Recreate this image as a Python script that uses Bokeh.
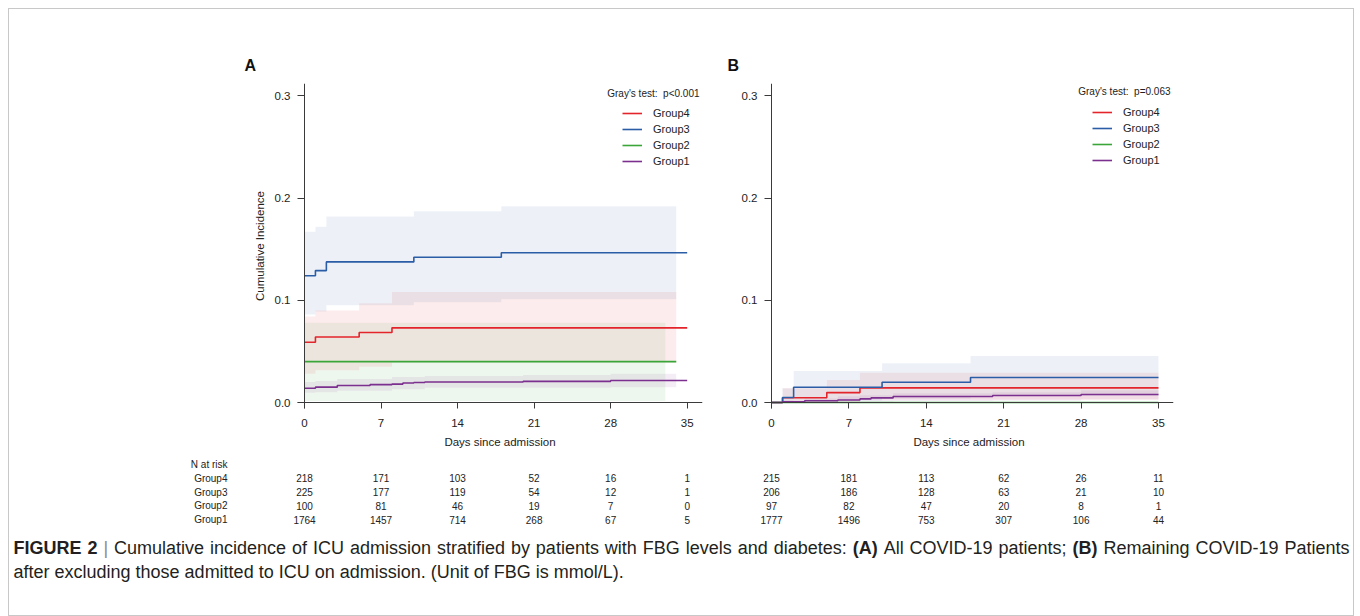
from bokeh.plotting import figure
from bokeh.models import (Range1d, FactorRange, FixedTicker, NumeralTickFormatter,
                          Legend, LegendItem, Label, ColumnDataSource, Span)
from bokeh.layouts import column, row
from bokeh.embed import file_html
from bokeh.resources import INLINE
from bokeh.core.properties import value

FONT = "Liberation Sans"
CAP_FONT = "Liberation Sans"

# ---------------- data ----------------
day_ticks = [0, 7, 14, 21, 28, 35]
y_ticks = [0.0, 0.1, 0.2, 0.3]
group_names = ["Group4", "Group3", "Group2", "Group1"]
group_colors = ["#e3242b", "#2b5ca6", "#3aa63a", "#7b2f8e"]

# Panel A: cumulative incidence step curves (time, value)
a_g4_t = [0, 1, 5, 8, 35]
a_g4_y = [0.059, 0.064, 0.0685, 0.073, 0.073]
a_g3_t = [0, 1, 2, 10, 18, 35]
a_g3_y = [0.124, 0.129, 0.1375, 0.142, 0.1465, 0.1465]
a_g2_t = [0, 34]
a_g2_y = [0.040, 0.040]
a_g1_t = [0, 1, 3, 6, 8, 9, 10, 11, 20, 28, 35]
a_g1_y = [0.014, 0.015, 0.0167, 0.0175, 0.018, 0.019, 0.0195, 0.020, 0.0207, 0.0215, 0.0215]

# Panel A: confidence bands (time, lower, upper)
a_g4_ci_t = [0, 1, 5, 8, 34]
a_g4_lo = [0.028, 0.0315, 0.035, 0.039, 0.039]
a_g4_hi = [0.084, 0.090, 0.097, 0.108, 0.108]
a_g3_ci_t = [0, 1, 2, 10, 18, 34]
a_g3_lo = [0.086, 0.089, 0.095, 0.098, 0.101, 0.101]
a_g3_hi = [0.167, 0.172, 0.182, 0.187, 0.192, 0.192]
a_g2_ci_t = [0, 33]
a_g2_lo = [0.0015, 0.0015]
a_g2_hi = [0.078, 0.078]
a_g1_ci_t = [0, 1, 3, 8, 11, 20, 28, 34]
a_g1_lo = [0.0095, 0.010, 0.0115, 0.013, 0.0145, 0.0145, 0.015, 0.015]
a_g1_hi = [0.020, 0.021, 0.023, 0.025, 0.026, 0.027, 0.028, 0.028]

# Panel B: step curves
b_g4_t = [0, 1, 5, 8, 35]
b_g4_y = [0.0, 0.0047, 0.0097, 0.0143, 0.0143]
b_g3_t = [0, 1, 2, 10, 18, 35]
b_g3_y = [0.0, 0.0049, 0.0149, 0.0198, 0.0244, 0.0244]
b_g2_t = [0, 35]
b_g2_y = [0.0, 0.0]
b_g1_t = [0, 1, 3, 6, 8, 9, 11, 20, 28, 35]
b_g1_y = [0.0, 0.0006, 0.0017, 0.0025, 0.0035, 0.0045, 0.0058, 0.0068, 0.0078, 0.0078]

# Panel B: confidence bands
b_g4_ci_t = [0, 1, 5, 8, 35]
b_g4_lo = [0.0, 0.0, 0.001, 0.003, 0.003]
b_g4_hi = [0.0, 0.014, 0.022, 0.029, 0.029]
b_g3_ci_t = [0, 1, 2, 10, 18, 35]
b_g3_lo = [0.0, 0.0, 0.002, 0.004, 0.0065, 0.0065]
b_g3_hi = [0.0, 0.014, 0.0308, 0.0383, 0.0455, 0.0455]
b_g1_ci_t = [0, 1, 3, 6, 8, 11, 20, 28, 35]
b_g1_lo = [0.0, 0.0, 0.0, 0.0005, 0.001, 0.0015, 0.002, 0.003, 0.003]
b_g1_hi = [0.0, 0.002, 0.004, 0.006, 0.007, 0.009, 0.010, 0.012, 0.012]

# Numbers at risk
risk_a = {"Group4": [218, 171, 103, 52, 16, 1],
          "Group3": [225, 177, 119, 54, 12, 1],
          "Group2": [100, 81, 46, 19, 7, 0],
          "Group1": [1764, 1457, 714, 268, 67, 5]}
risk_b = {"Group4": [215, 181, 113, 62, 26, 11],
          "Group3": [206, 186, 128, 63, 21, 10],
          "Group2": [97, 82, 47, 20, 8, 1],
          "Group1": [1777, 1496, 753, 307, 106, 44]}

NB = "\u00a0"
test_a = "Gray's test:" + NB + NB + "p<0.001"
test_b = "Gray's test:" + NB + NB + "p=0.063"

caption_line1 = [("FIGURE", True), ("2", True), ("|", False), ("Cumulative", False), ("incidence", False),
                 ("of", False), ("ICU", False), ("admission", False), ("stratified", False), ("by", False),
                 ("patients", False), ("with", False), ("FBG", False), ("levels", False), ("and", False),
                 ("diabetes:", False), ("(A)", True), ("All", False), ("COVID-19", False), ("patients;", False),
                 ("(B)", True), ("Remaining", False), ("COVID-19", False), ("Patients", False)]
caption_line2 = "after excluding those admitted to ICU on admission. (Unit of FBG is mmol/L)."

# ---------------- layout (page pixels; canvas starts at page x=9, y=9) ----------------
PANEL_H = 448
RISK_H = 74
CAP_H = 84
ZERO_Y = 402            # page y of value 0
PX_Y = 1022.4           # pixels per unit of cumulative incidence
FRAME_TOP = 83
FRAME_BOT = 408         # axes cross: frame extends a little below 0 and left of day 0
X_EXT = 7
AXIS_COL = "#3a3a3a"


def style_axes(p):
    for ax in p.axis:
        ax.axis_line_color = None
        ax.major_tick_line_color = AXIS_COL
        ax.minor_tick_line_color = None
        ax.major_tick_out = 0
        ax.major_label_text_font = FONT
        ax.major_label_text_font_size = "11.5px"
        ax.major_label_text_color = "#222222"
        ax.axis_label_text_font = FONT
        ax.axis_label_text_font_size = "11.5px"
        ax.axis_label_text_font_style = "normal"
        ax.axis_label_text_color = "#222222"


def make_panel(letter, lines, bands, canvas_x, width, day0_x, px_day, frame_right, ylabel,
               test_text, test_xy, legend_tl, letter_x):
    frame_left = day0_x - X_EXT
    x_start = -X_EXT / px_day
    x_end = x_start + (frame_right - frame_left) / px_day
    y_start = -(FRAME_BOT - ZERO_Y) / PX_Y
    y_end = (ZERO_Y - FRAME_TOP) / PX_Y
    p = figure(width=width, height=PANEL_H, x_range=Range1d(x_start, x_end),
               y_range=Range1d(y_start, y_end),
               output_backend="svg", toolbar_location=None,
               min_border_left=frame_left - canvas_x, min_border_right=canvas_x + width - frame_right,
               min_border_top=FRAME_TOP - 9, min_border_bottom=9 + PANEL_H - FRAME_BOT)
    p.outline_line_color = None
    p.xgrid.visible = False
    p.ygrid.visible = False
    for band, c in zip(bands, group_colors):
        if band is None:
            continue
        t, lo, hi = band
        p.varea_step(x=t, y1=lo, y2=hi, step_mode="after", fill_color=c, fill_alpha=0.085)
    rends = []
    for (t, y), c in zip(lines, group_colors):
        r = p.step(x=t, y=y, mode="after", line_color=c, line_width=1.6)
        rends.append(r)
    # axis lines crossing at the origin
    p.add_layout(Span(location=0, dimension="width", line_color=AXIS_COL, line_width=1))
    p.add_layout(Span(location=0, dimension="height", line_color=AXIS_COL, line_width=1))

    p.xaxis.ticker = FixedTicker(ticks=day_ticks, minor_ticks=[])
    p.yaxis.ticker = FixedTicker(ticks=y_ticks, minor_ticks=[])
    p.yaxis.formatter = NumeralTickFormatter(format="0.0")
    style_axes(p)
    p.xaxis.major_tick_in = FRAME_BOT - ZERO_Y
    p.xaxis.major_label_standoff = 10
    p.xaxis.axis_label = "Days since admission"
    p.xaxis.axis_label_standoff = 6
    p.yaxis.major_tick_in = X_EXT
    p.yaxis.major_label_standoff = 7
    if ylabel:
        p.yaxis.axis_label = ylabel
        p.yaxis.axis_label_standoff = 6

    p.title.text = letter
    p.title.text_font = FONT
    p.title.text_font_size = "16px"
    p.title.text_font_style = "bold"
    p.title.text_color = "#111111"
    p.title.align = "left"
    p.title.offset = letter_x - frame_left
    p.title.standoff = 19

    legend = Legend(items=[LegendItem(label=n, renderers=[r]) for n, r in zip(group_names, rends)],
                    location=(legend_tl[0] - frame_left, FRAME_BOT - (legend_tl[1] + 64)),
                    glyph_width=20, glyph_height=16, label_height=16,
                    label_standoff=11, spacing=0, padding=0, margin=0,
                    border_line_color=None, background_fill_alpha=0,
                    label_text_font=FONT, label_text_font_size="11px", label_text_color="#222222")
    p.add_layout(legend)
    p.add_layout(Label(x=(test_xy[0] - day0_x) / px_day, y=(ZERO_Y - test_xy[1]) / PX_Y,
                       text=test_text, text_align="right",
                       text_baseline="middle", text_font=FONT, text_font_size="10px",
                       text_color="#222222"))
    return p


PX_A = 10.934
PX_B = 11.057
figA = make_panel("A",
                  [(a_g4_t, a_g4_y), (a_g3_t, a_g3_y), (a_g2_t, a_g2_y), (a_g1_t, a_g1_y)],
                  [(a_g4_ci_t, a_g4_lo, a_g4_hi), (a_g3_ci_t, a_g3_lo, a_g3_hi),
                   (a_g2_ci_t, a_g2_lo, a_g2_hi), (a_g1_ci_t, a_g1_lo, a_g1_hi)],
                  9, 707, 304, PX_A, 702, "Cumulative Incidence",
                  test_a, (699, 93.3), (622, 105.3), 244)
figB = make_panel("B",
                  [(b_g4_t, b_g4_y), (b_g3_t, b_g3_y), (b_g2_t, b_g2_y), (b_g1_t, b_g1_y)],
                  [(b_g4_ci_t, b_g4_lo, b_g4_hi), (b_g3_ci_t, b_g3_lo, b_g3_hi),
                   None, (b_g1_ci_t, b_g1_lo, b_g1_hi)],
                  716, 637, 771, PX_B, 1173, None,
                  test_b, (1170, 91), (1092, 104.3), 727)


def make_risk(risk, canvas_x, width, frame_left, day0_x, px_day, frame_right, show_labels):
    factors = ["Group1", "Group2", "Group3", "Group4", "N at risk"]
    x_start = -(day0_x - frame_left) / px_day
    x_end = x_start + (frame_right - frame_left) / px_day
    p = figure(width=width, height=RISK_H, x_range=Range1d(x_start, x_end),
               y_range=FactorRange(factors=factors, range_padding=0),
               output_backend="svg", toolbar_location=None, x_axis_location=None,
               y_axis_location="left" if show_labels else None,
               min_border_left=frame_left - canvas_x, min_border_right=canvas_x + width - frame_right,
               min_border_top=0, min_border_bottom=5)
    p.outline_line_color = None
    p.xgrid.visible = False
    p.ygrid.visible = False
    xs, ys, ts = [], [], []
    for g in group_names:
        for d, n in zip(day_ticks, risk[g]):
            xs.append(d)
            ys.append(g)
            ts.append(str(n))
    src = ColumnDataSource(dict(x=xs, y=ys, t=ts))
    p.text(x="x", y="y", text="t", source=src, text_align="center", text_baseline="middle",
           text_font=value(FONT), text_font_size="10px", text_color="#222222")
    if show_labels:
        ax = p.yaxis[0]
        ax.axis_line_color = None
        ax.major_tick_line_color = None
        ax.minor_tick_line_color = None
        ax.major_tick_out = 0
        ax.major_tick_in = 0
        ax.major_label_standoff = frame_left - 227
        ax.major_label_text_font = FONT
        ax.major_label_text_font_size = "10px"
        ax.major_label_text_color = "#222222"
    return p


riskA = make_risk(risk_a, 9, 707, 254, 304, PX_A, 702, True)
riskB = make_risk(risk_b, 716, 637, 731, 771, PX_B, 1173, False)

# caption
cap = figure(width=1344, height=CAP_H, x_range=Range1d(0, 1344), y_range=Range1d(0, CAP_H),
             output_backend="svg", toolbar_location=None, x_axis_location=None, y_axis_location=None,
             min_border=0)
cap.outline_line_color = None
cap.xgrid.visible = False
cap.ygrid.visible = False

W_REG = {' ': 278, '(': 333, ')': 333, ',': 278, '-': 333, '.': 278, '/': 278, '1': 556, '9': 556,
         '2': 556, ':': 278, ';': 278, '|': 260, 'A': 667, 'B': 667, 'C': 722, 'D': 722, 'E': 667,
         'F': 611, 'G': 778, 'I': 278, 'L': 556, 'O': 778, 'P': 667, 'R': 722, 'U': 722, 'V': 667,
         'a': 556, 'b': 556, 'c': 500, 'd': 556, 'e': 556, 'f': 278, 'g': 556, 'h': 556, 'i': 222,
         'l': 222, 'm': 833, 'n': 556, 'o': 556, 'p': 556, 'r': 333, 's': 500, 't': 278, 'u': 556,
         'v': 500, 'w': 722, 'x': 500, 'y': 500}
W_BOLD = {'F': 611, 'I': 278, 'G': 778, 'U': 722, 'R': 722, 'E': 667, '2': 556, '(': 333,
          'A': 722, ')': 333, 'B': 722}
CAP_SIZE = 18


def word_w(w, bold):
    tab = W_BOLD if bold else W_REG
    return sum(tab.get(ch, 556) for ch in w) * CAP_SIZE / 1000


cap_top = 9 + PANEL_H + RISK_H
x0, x1 = 13 - 9, 1349 - 9
widths = [word_w(w, b) for w, b in caption_line1]
gap = (x1 - x0 - sum(widths)) / (len(widths) - 1)
cx = x0
y_l1 = CAP_H - (547 - cap_top)
y_l2 = CAP_H - (571 - cap_top)
for (w, b), wd in zip(caption_line1, widths):
    cap.add_layout(Label(x=cx, y=y_l1, text=w, text_align="left", text_baseline="middle",
                         text_font=CAP_FONT, text_font_size=f"{CAP_SIZE}px",
                         text_font_style="bold" if b else "normal",
                         text_color="#8a8a8a" if w == "|" else "#231f20"))
    cx += wd + gap
cap.add_layout(Label(x=x0, y=y_l2, text=caption_line2, text_align="left", text_baseline="middle",
                     text_font=CAP_FONT, text_font_size=f"{CAP_SIZE}px", text_color="#231f20"))

layout = column(row(figA, figB), row(riskA, riskB), cap,
                margin=(8, 0, 0, 8),
                styles={"border": "1px solid #c8c8c8"})

open("out.html", "w").write(file_html(layout, INLINE))
